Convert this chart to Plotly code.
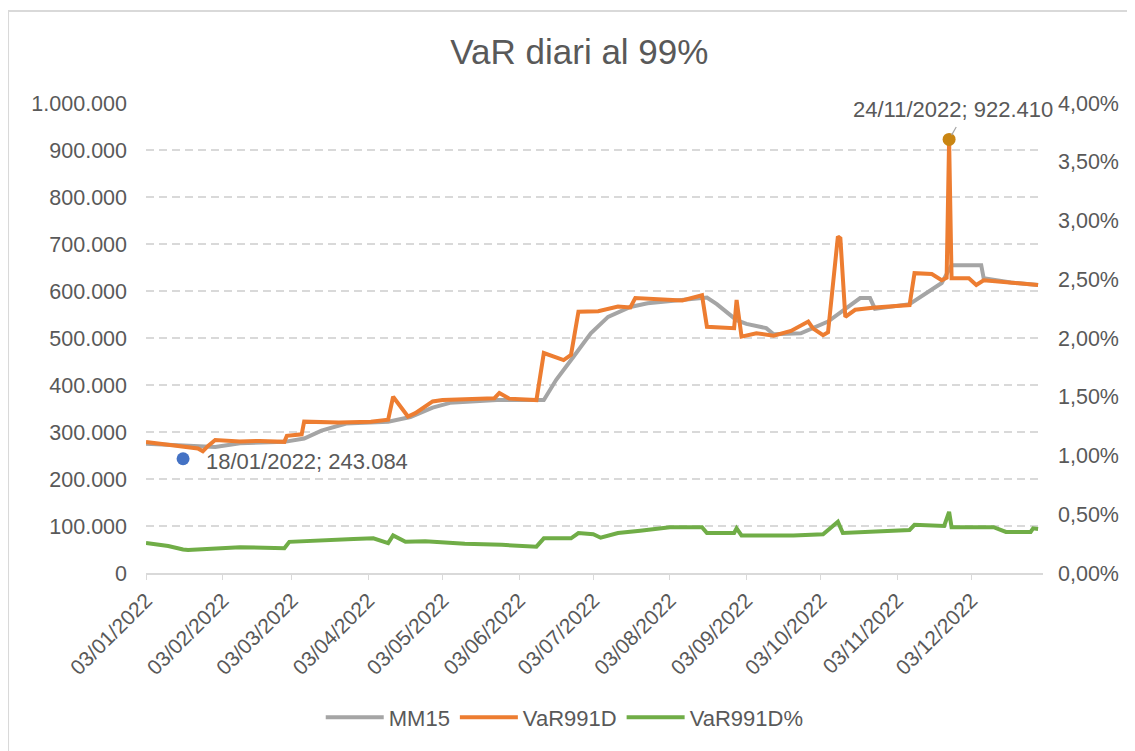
import plotly.graph_objects as go

# ---------------- data ----------------
var_dates = [
    "2022-01-03", "2022-01-10", "2022-01-14", "2022-01-18", "2022-01-24", "2022-01-26",
    "2022-01-28", "2022-01-31", "2022-02-10", "2022-02-18", "2022-02-28", "2022-03-01",
    "2022-03-07", "2022-03-08", "2022-03-22", "2022-04-04", "2022-04-11", "2022-04-13",
    "2022-04-19", "2022-04-22", "2022-04-29", "2022-05-03", "2022-05-13", "2022-05-24",
    "2022-05-26", "2022-05-30", "2022-06-10", "2022-06-13", "2022-06-21", "2022-06-24",
    "2022-06-27", "2022-07-05", "2022-07-13", "2022-07-18", "2022-07-20", "2022-07-29",
    "2022-08-08", "2022-08-16", "2022-08-18", "2022-08-29", "2022-08-30", "2022-09-01",
    "2022-09-07", "2022-09-14", "2022-09-21", "2022-09-28", "2022-09-30", "2022-10-04",
    "2022-10-06", "2022-10-10", "2022-10-11", "2022-10-13", "2022-10-17", "2022-10-25",
    "2022-11-08", "2022-11-10", "2022-11-17", "2022-11-21", "2022-11-23", "2022-11-24",
    "2022-11-25", "2022-12-02", "2022-12-05", "2022-12-08", "2022-12-19", "2022-12-30",
]
var_values = [
    279000, 274000, 270000, 268000, 265000, 259000,
    270000, 283000, 280000, 281000, 279000, 292000,
    295000, 322000, 320000, 322000, 326000, 375000,
    333000, 340000, 365000, 368000, 370000, 372000,
    383000, 371000, 368000, 468000, 453000, 464000,
    556000, 557000, 567000, 565000, 585000, 582000,
    580000, 591000, 524000, 521000, 581000, 503000,
    510000, 505000, 515000, 535000, 520000, 506000,
    512000, 716000, 712000, 545000, 560000, 565000,
    570000, 638000, 636000, 623000, 628000, 922410,
    627000, 627000, 613000, 623000, 618000, 613000,
]

mm15_dates = [
    "2022-01-03", "2022-01-18", "2022-01-31", "2022-02-10", "2022-02-28", "2022-03-08",
    "2022-03-15", "2022-03-25", "2022-04-11", "2022-04-20", "2022-04-29", "2022-05-06",
    "2022-05-25", "2022-06-13", "2022-06-18", "2022-06-25", "2022-07-02", "2022-07-09",
    "2022-07-18", "2022-07-25", "2022-08-14", "2022-08-18", "2022-08-22", "2022-08-30",
    "2022-09-03", "2022-09-11", "2022-09-14", "2022-09-25", "2022-10-06", "2022-10-10",
    "2022-10-19", "2022-10-23", "2022-10-25", "2022-11-08", "2022-11-21", "2022-11-25",
    "2022-12-07", "2022-12-08", "2022-12-19", "2022-12-30",
]
mm15_values = [
    275000, 271000, 268000, 276000, 279000, 286000,
    303000, 318000, 322000, 332000, 352000, 362000,
    368000, 368000, 411000, 460000, 510000, 545000,
    566000, 574000, 585000, 586000, 572000, 538000,
    530000, 521000, 508000, 510000, 535000, 550000,
    585000, 585000, 562000, 572000, 617000, 655000,
    655000, 627000, 618000, 613000,
]

pct_dates = [
    "2022-01-03", "2022-01-12", "2022-01-18", "2022-01-20", "2022-02-10", "2022-02-28",
    "2022-03-02", "2022-03-14", "2022-03-28", "2022-04-05", "2022-04-11", "2022-04-13",
    "2022-04-18", "2022-04-26", "2022-05-12", "2022-05-27", "2022-06-10", "2022-06-13",
    "2022-06-24", "2022-06-27", "2022-07-03", "2022-07-06", "2022-07-13", "2022-07-22",
    "2022-08-03", "2022-08-16", "2022-08-18", "2022-08-29", "2022-08-30", "2022-09-01",
    "2022-09-22", "2022-10-04", "2022-10-10", "2022-10-12", "2022-11-08", "2022-11-10",
    "2022-11-22", "2022-11-24", "2022-11-25", "2022-12-12", "2022-12-17", "2022-12-27",
    "2022-12-28", "2022-12-30",
]
pct_values = [
    0.00255, 0.00230, 0.00200, 0.00195, 0.00220, 0.00210,
    0.00265, 0.00280, 0.00290, 0.00295, 0.00255, 0.00320,
    0.00265, 0.00270, 0.00250, 0.00240, 0.00224, 0.00295,
    0.00295, 0.00340, 0.00330, 0.00300, 0.00340, 0.00360,
    0.00390, 0.00390, 0.00340, 0.00340, 0.00380, 0.00320,
    0.00320, 0.00330, 0.00437, 0.00340, 0.00366, 0.00410,
    0.00400, 0.00520, 0.00390, 0.00390, 0.00350, 0.00350,
    0.00380, 0.00375,
]

min_date = "2022-01-18"
min_value = 243084
min_label = "18/01/2022; 243.084"
max_date = "2022-11-24"
max_value = 922410
max_label = "24/11/2022; 922.410"

month_ticks = ["2022-01-03", "2022-02-03", "2022-03-03", "2022-04-03", "2022-05-03",
               "2022-06-03", "2022-07-03", "2022-08-03", "2022-09-03", "2022-10-03",
               "2022-11-03", "2022-12-03"]
month_labels = ["03/01/2022", "03/02/2022", "03/03/2022", "03/04/2022", "03/05/2022",
                "03/06/2022", "03/07/2022", "03/08/2022", "03/09/2022", "03/10/2022",
                "03/11/2022", "03/12/2022"]

# ---------------- figure ----------------
FONT = "Liberation Sans, Arial, sans-serif"
TXT = "#595959"

fig = go.Figure()
fig.add_trace(go.Scatter(x=mm15_dates, y=mm15_values, name="MM15", mode="lines",
                         line=dict(color="#A5A5A5", width=4)))
fig.add_trace(go.Scatter(x=var_dates, y=var_values, name="VaR991D", mode="lines",
                         line=dict(color="#ED7D31", width=4)))
fig.add_trace(go.Scatter(x=pct_dates, y=pct_values, name="VaR991D%", mode="lines",
                         line=dict(color="#70AD47", width=4), yaxis="y2"))
fig.add_trace(go.Scatter(x=[min_date], y=[min_value], mode="markers", showlegend=False,
                         marker=dict(color="#4472C4", size=13)))
fig.add_trace(go.Scatter(x=[max_date], y=[max_value], mode="markers", showlegend=False,
                         marker=dict(color="#C98512", size=13)))

fig.add_annotation(x=min_date, y=min_value, text=min_label, showarrow=False,
                   xanchor="left", yanchor="middle", xshift=21, yshift=-3,
                   font=dict(family=FONT, size=22, color=TXT))
fig.add_annotation(x=max_date, y=max_value, text=max_label, showarrow=False,
                   xanchor="center", yanchor="middle", xshift=4, yshift=30,
                   font=dict(family=FONT, size=22, color=TXT))
fig.add_annotation(x=max_date, y=max_value, text="", showarrow=True, arrowhead=0,
                   arrowwidth=1.2, arrowcolor="#A6A6A6", ax=8, ay=-14, standoff=5)

# the page body has an 8px margin, so the figure is sized/positioned to compensate
fig.update_layout(
    width=1127, height=743,
    margin=dict(l=138, r=92, t=95, b=178),
    paper_bgcolor="white", plot_bgcolor="white",
    separators=",.",
    font=dict(family=FONT, size=21, color=TXT),
    title=dict(text="VaR diari al 99%", x=0.507, xanchor="center", y=0.941,
               yanchor="middle", font=dict(family=FONT, size=35, color=TXT)),
    showlegend=True,
    legend=dict(orientation="h", x=0.494, xanchor="center", y=0.045, yanchor="middle",
                xref="container", yref="container",
                font=dict(family=FONT, size=22, color=TXT), itemwidth=58,
                traceorder="normal"),
    xaxis=dict(type="date", range=["2022-01-03", "2023-01-01"],
               tickvals=month_ticks, ticktext=month_labels, tickangle=-45,
               showgrid=False, showline=True, linecolor="#D9D9D9", linewidth=1.5,
               ticks="outside", ticklen=5, tickcolor="#D9D9D9",
               tickfont=dict(family=FONT, size=21, color=TXT)),
    yaxis=dict(range=[0, 1000000], dtick=100000, tickformat=",d",
               showgrid=True, gridcolor="#D9D9D9", gridwidth=1.5, griddash="8px,5px",
               zeroline=False, showline=False, ticklabelstandoff=18,
               tickfont=dict(family=FONT, size=21.5, color=TXT)),
    yaxis2=dict(range=[0, 0.04], dtick=0.005, tickformat=".2%", overlaying="y",
                side="right", showgrid=False, zeroline=False, showline=False,
                ticklabelstandoff=14, tickfont=dict(family=FONT, size=21.5, color=TXT)),
    shapes=[dict(type="rect", xref="paper", yref="paper",
                 x0=-0.1538, x1=1.105, y0=-0.42, y1=1.1957,
                 line=dict(color="#D9D9D9", width=2), fillcolor="rgba(0,0,0,0)",
                 layer="below")],
)

fig.write_html("out.html")
